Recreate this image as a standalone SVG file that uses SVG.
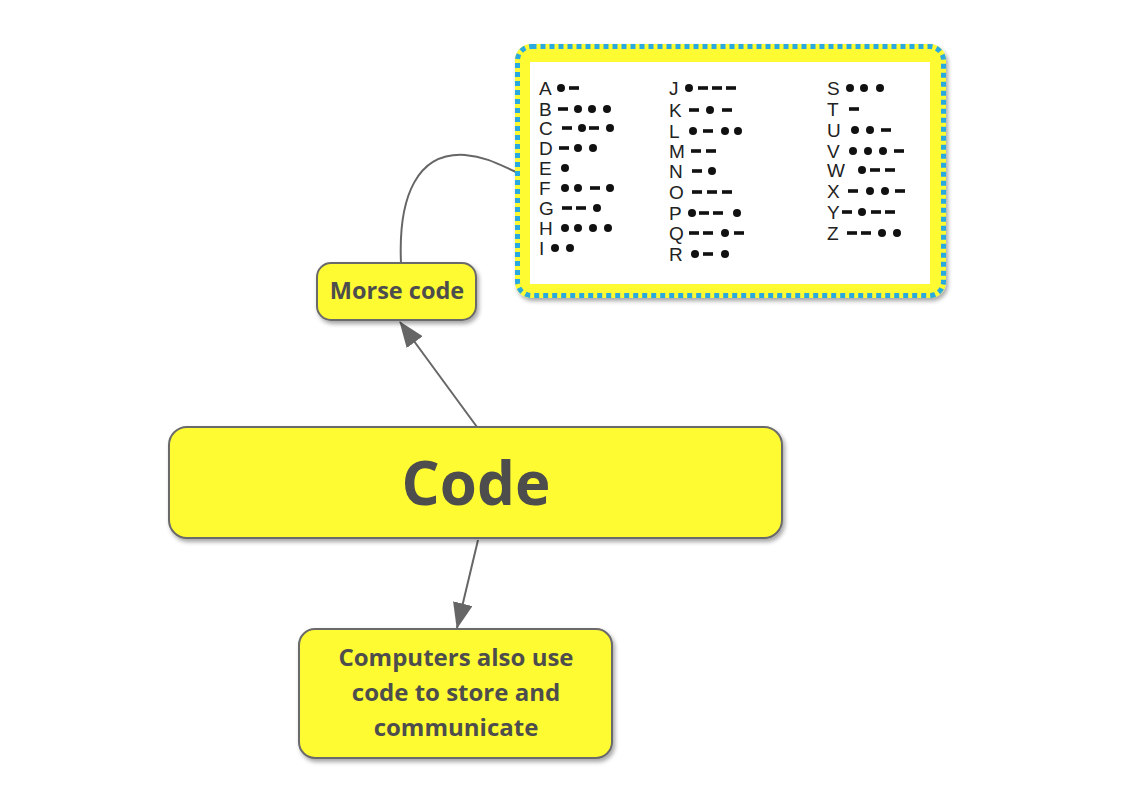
<svg xmlns="http://www.w3.org/2000/svg" width="1138" height="796" viewBox="0 0 1138 796">
<defs>
<filter id="sh" x="-10%" y="-10%" width="125%" height="130%">
<feDropShadow dx="2" dy="3" stdDeviation="2" flood-color="#000" flood-opacity="0.35"/>
</filter>
<marker id="arr" markerWidth="26" markerHeight="20" refX="25" refY="10" orient="auto" markerUnits="userSpaceOnUse">
<path d="M0,0 L26,10 L0,20 Z" fill="#666"/>
</marker>
</defs>
<style>
.node{fill:#fffb33;stroke:#6a6a6a;stroke-width:2}
.lbl{font-family:"Open Sans","Liberation Sans",sans-serif;font-weight:bold;fill:#4d4d4d;text-anchor:middle}
.conn{fill:none;stroke:#666;stroke-width:2}
.ml{font-family:"Liberation Sans",Arial,sans-serif;font-size:19px;fill:#222}
.d{fill:#111}
.h{fill:#111}
</style>
<rect width="1138" height="796" fill="#fff"/>

<g id="connectors">
<path class="conn" d="M401,263 C398,195 418,152 465,155 C487,157 500,165 516,172"/>
<line class="conn" x1="477" y1="427" x2="400" y2="322" marker-end="url(#arr)"/>
<line class="conn" x1="478" y1="540" x2="457" y2="628" marker-end="url(#arr)"/>
</g>

<g id="morse-image">
<rect x="515" y="44" width="431" height="254" rx="16" fill="#fffb33" filter="url(#sh)"/>
<rect x="517.5" y="46.5" width="426" height="249" rx="14" fill="none" stroke="#2aa9e0" stroke-width="5" stroke-dasharray="5 4"/>
<rect x="530" y="62" width="400" height="222" fill="#fff"/>
<g id="col1">
<text class="ml" x="539" y="95">A</text><circle class="d" cx="561" cy="88" r="4"/><rect class="h" x="569" y="86.2" width="10" height="3.6"/>
<text class="ml" x="539" y="116">B</text><rect class="h" x="558" y="107.2" width="10" height="3.6"/><circle class="d" cx="578" cy="109" r="4"/><circle class="d" cx="592" cy="109" r="4"/><circle class="d" cx="607" cy="109" r="4"/>
<text class="ml" x="539" y="135">C</text><rect class="h" x="562" y="126.2" width="10" height="3.6"/><circle class="d" cx="582" cy="128" r="4"/><rect class="h" x="589" y="126.2" width="10" height="3.6"/><circle class="d" cx="610" cy="128" r="4"/>
<text class="ml" x="539" y="155">D</text><rect class="h" x="559" y="146.2" width="10" height="3.6"/><circle class="d" cx="578" cy="148" r="4"/><circle class="d" cx="593" cy="148" r="4"/>
<text class="ml" x="539" y="175">E</text><circle class="d" cx="565" cy="168" r="4"/>
<text class="ml" x="539" y="195">F</text><circle class="d" cx="565" cy="188" r="4"/><circle class="d" cx="578" cy="188" r="4"/><rect class="h" x="590" y="186.2" width="10" height="3.6"/><circle class="d" cx="610" cy="188" r="4"/>
<text class="ml" x="539" y="215">G</text><rect class="h" x="562" y="206.2" width="10" height="3.6"/><rect class="h" x="576" y="206.2" width="10" height="3.6"/><circle class="d" cx="597" cy="208" r="4"/>
<text class="ml" x="539" y="235">H</text><circle class="d" cx="565" cy="228" r="4"/><circle class="d" cx="578" cy="228" r="4"/><circle class="d" cx="593" cy="228" r="4"/><circle class="d" cx="608" cy="228" r="4"/>
<text class="ml" x="539" y="255">I</text><circle class="d" cx="555" cy="248" r="4"/><circle class="d" cx="570" cy="248" r="4"/>
</g>
<g id="col2">
<text class="ml" x="669" y="95">J</text><circle class="d" cx="689" cy="88" r="4"/><rect class="h" x="698" y="86.2" width="10" height="3.6"/><rect class="h" x="712" y="86.2" width="10" height="3.6"/><rect class="h" x="726" y="86.2" width="10" height="3.6"/>
<text class="ml" x="669" y="117">K</text><rect class="h" x="689" y="108.2" width="10" height="3.6"/><circle class="d" cx="710" cy="110" r="4"/><rect class="h" x="722" y="108.2" width="10" height="3.6"/>
<text class="ml" x="669" y="138">L</text><circle class="d" cx="693" cy="131" r="4"/><rect class="h" x="703" y="129.2" width="10" height="3.6"/><circle class="d" cx="725" cy="131" r="4"/><circle class="d" cx="738" cy="131" r="4"/>
<text class="ml" x="669" y="158">M</text><rect class="h" x="691" y="149.2" width="10" height="3.6"/><rect class="h" x="706" y="149.2" width="10" height="3.6"/>
<text class="ml" x="669" y="178">N</text><rect class="h" x="692" y="169.2" width="10" height="3.6"/><circle class="d" cx="712" cy="171" r="4"/>
<text class="ml" x="669" y="199">O</text><rect class="h" x="692" y="190.2" width="10" height="3.6"/><rect class="h" x="707" y="190.2" width="10" height="3.6"/><rect class="h" x="722" y="190.2" width="10" height="3.6"/>
<text class="ml" x="669" y="220">P</text><circle class="d" cx="692" cy="213" r="4"/><rect class="h" x="699" y="211.2" width="10" height="3.6"/><rect class="h" x="713" y="211.2" width="10" height="3.6"/><circle class="d" cx="737" cy="213" r="4"/>
<text class="ml" x="669" y="240">Q</text><rect class="h" x="689" y="231.2" width="10" height="3.6"/><rect class="h" x="703" y="231.2" width="10" height="3.6"/><circle class="d" cx="725" cy="233" r="4"/><rect class="h" x="734" y="231.2" width="10" height="3.6"/>
<text class="ml" x="669" y="261">R</text><circle class="d" cx="695" cy="254" r="4"/><rect class="h" x="703" y="252.2" width="10" height="3.6"/><circle class="d" cx="725" cy="254" r="4"/>
</g>
<g id="col3">
<text class="ml" x="827" y="95">S</text><circle class="d" cx="850" cy="88" r="4"/><circle class="d" cx="864" cy="88" r="4"/><circle class="d" cx="880" cy="88" r="4"/>
<text class="ml" x="827" y="116">T</text><rect class="h" x="849" y="107.2" width="10" height="3.6"/>
<text class="ml" x="827" y="137">U</text><circle class="d" cx="855" cy="130" r="4"/><circle class="d" cx="870" cy="130" r="4"/><rect class="h" x="881" y="128.2" width="10" height="3.6"/>
<text class="ml" x="827" y="158">V</text><circle class="d" cx="853" cy="151" r="4"/><circle class="d" cx="868" cy="151" r="4"/><circle class="d" cx="883" cy="151" r="4"/><rect class="h" x="894" y="149.2" width="10" height="3.6"/>
<text class="ml" x="827" y="177">W</text><circle class="d" cx="862" cy="170" r="4"/><rect class="h" x="870" y="168.2" width="10" height="3.6"/><rect class="h" x="885" y="168.2" width="10" height="3.6"/>
<text class="ml" x="827" y="198">X</text><rect class="h" x="848" y="189.2" width="10" height="3.6"/><circle class="d" cx="870" cy="191" r="4"/><circle class="d" cx="885" cy="191" r="4"/><rect class="h" x="895" y="189.2" width="10" height="3.6"/>
<text class="ml" x="827" y="219">Y</text><rect class="h" x="842" y="210.2" width="10" height="3.6"/><circle class="d" cx="862" cy="212" r="4"/><rect class="h" x="871" y="210.2" width="10" height="3.6"/><rect class="h" x="885" y="210.2" width="10" height="3.6"/>
<text class="ml" x="827" y="240">Z</text><rect class="h" x="847" y="231.2" width="10" height="3.6"/><rect class="h" x="861" y="231.2" width="10" height="3.6"/><circle class="d" cx="882" cy="233" r="4"/><circle class="d" cx="897" cy="233" r="4"/>
</g>
</g>

<g id="node-morse">
<rect class="node" x="317" y="263" width="159" height="57" rx="14" filter="url(#sh)"/>
<text class="lbl" x="397" y="299" font-size="23.5">Morse code</text>
</g>

<g id="node-code">
<rect class="node" x="169" y="427" width="613" height="111" rx="18" filter="url(#sh)"/>
<text class="lbl" x="476" y="505" font-size="60">Code</text>
</g>

<g id="node-computers">
<rect class="node" x="299" y="629" width="313" height="129" rx="16" filter="url(#sh)"/>
<text class="lbl" x="456" y="666" font-size="24">Computers also use</text>
<text class="lbl" x="456" y="701" font-size="24">code to store and</text>
<text class="lbl" x="456" y="736" font-size="24">communicate</text>
</g>
</svg>
